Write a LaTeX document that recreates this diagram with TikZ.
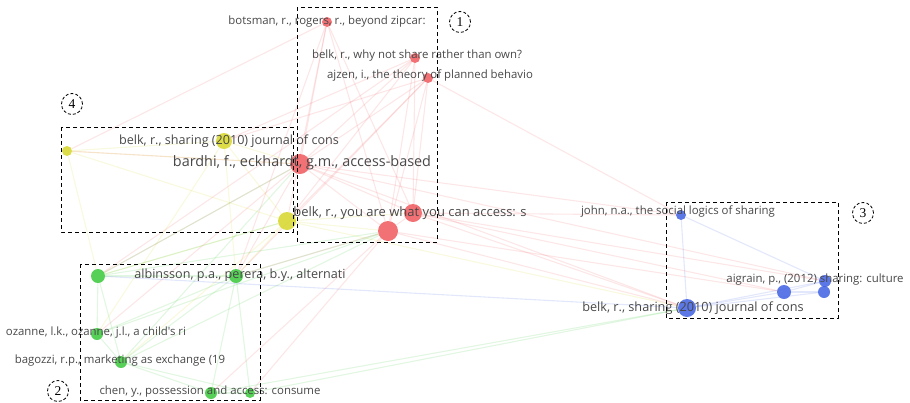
\documentclass[tikz,border=0pt]{standalone}
\usepackage{fontspec}
\setmainfont{Liberation Serif}
\newfontfamily\labfont{Open Sans}
\usepackage{tikz}
\usetikzlibrary{backgrounds}

\definecolor{vred}{RGB}{238,88,92}
\definecolor{vyellow}{RGB}{214,214,40}
\definecolor{vgreen}{RGB}{58,200,58}
\definecolor{vblue}{RGB}{64,96,226}
\definecolor{labgray}{RGB}{72,72,72}

\begin{document}
\begin{tikzpicture}[x=1pt,y=-1pt,
  item/.style={circle,inner sep=0pt,minimum size=2*#1pt,opacity=0.85},
  lab/.style={font=\labfont\fontsize{#1}{14}\selectfont,text=labgray,inner sep=0pt},
  lab/.default=11.4,
  link/.style={line width=1.1pt,draw opacity=0.15},
  group/.style={draw,dashed,line width=0.9pt,dash pattern=on 4pt off 3pt},
  tag/.style={circle,draw,dashed,line width=0.8pt,dash pattern=on 3pt off 2pt,inner sep=1pt,minimum size=21pt,font=\fontsize{13.5}{14}\selectfont}]
\useasboundingbox (0,0) rectangle (910,402);

% cluster nodes
\node [item=5,fill=vred] (bots) at (327,22) {};
\node [item=5,fill=vred] (whyn) at (415,58) {};
\node [item=5,fill=vred] (ajz) at (428,78) {};
\node [item=10,fill=vred] (bard) at (300,164) {};
\node [item=9,fill=vred] (bya) at (413,213) {};
\node [item=10,fill=vred] (byb) at (388,231) {};
\node [item=5,fill=vyellow] (ya) at (67,151) {};
\node [item=8,fill=vyellow] (bsy) at (224,141) {};
\node [item=9,fill=vyellow] (yb) at (287,221) {};
\node [item=7,fill=vgreen] (ga) at (98,276) {};
\node [item=7,fill=vgreen] (alb) at (236,276) {};
\node [item=6,fill=vgreen] (oz) at (97,334) {};
\node [item=6,fill=vgreen] (bag) at (121,362) {};
\node [item=6,fill=vgreen] (chen) at (211,393) {};
\node [item=5,fill=vgreen] (gb) at (250,393) {};
\node [item=5,fill=vblue] (john) at (681,215) {};
\node [item=9,fill=vblue] (bsb) at (687,308) {};
\node [item=7,fill=vblue] (bc) at (784,292) {};
\node [item=6,fill=vblue] (aig) at (825,281) {};
\node [item=6,fill=vblue] (ad) at (824,292) {};

% links
\begin{scope}[on background layer]
\foreach \a/\b in {bots/bard,bots/bya,bots/byb,bots/yb,bots/ya,bots/alb,
  whyn/bard,whyn/bya,whyn/byb,whyn/yb,whyn/bsy,whyn/ga,
  ajz/bard,ajz/bya,ajz/byb,ajz/john,ajz/bsy,ajz/alb,ajz/yb,
  bard/bya,bard/byb,bard/bsb,bard/john,bard/aig,bard/ya,bard/alb,bard/ga,bard/oz,
  bya/byb,bya/bsb,bya/bc,bya/john,bya/aig,
  byb/bsb,byb/bc,byb/alb,byb/gb,byb/chen}
  \draw [link,vred] (\a) -- (\b);
\foreach \a/\b in {ya/bsy,ya/bard,ya/ga,ya/yb,bsy/bard,bsy/yb,bsy/alb,bsy/oz,
  yb/bya,yb/byb,yb/ga,yb/bag,yb/bsb,yb/alb}
  \draw [link,vyellow] (\a) -- (\b);
\foreach \a/\b in {ga/alb,ga/oz,ga/bag,ga/bard,ga/yb,ga/byb,alb/chen,alb/gb,alb/bag,
  alb/byb,oz/bag,oz/alb,oz/byb,bag/chen,bag/gb,bag/bard,bag/byb,chen/gb,chen/bsb,gb/bsb}
  \draw [link,vgreen] (\a) -- (\b);
\foreach \a/\b in {john/bsb,john/aig,bsb/bc,bc/aig,bc/ad,aig/ad,bsb/aig,bsb/ad,bsb/ga}
  \draw [link,vblue] (\a) -- (\b);
\end{scope}

% labels
\node [lab] (bots-l) at (bots) {botsman, r., rogers, r., beyond zipcar:};
\node [lab] (whyn-l) at (417,56) {belk, r., why not share rather than own?};
\node [lab] (ajz-l) at (430,76) {ajzen, i., the theory of planned behavio};
\node [lab=12.6] (bsy-l) at (229,141) {belk, r., sharing (2010) journal of cons};
\node [lab=14.4] (bard-l) at (302,163) {bardhi, f., eckhardt, g.m., access-based};
\node [lab=13] (bya-l) at (410,213) {belk, r., you are what you can access: s};
\node [lab] (john-l) at (678,212) {john, n.a., the social logics of sharing};
\node [lab] (aig-l) at (815,280) {aigrain, p., (2012) sharing: culture};
\node [lab=12.7] (bsb-l) at (693,308) {belk, r., sharing (2010) journal of cons};
\node [lab=12.6] (alb-l) at (240,275) {albinsson, p.a., perera, b.y., alternati};
\node [lab] (oz-l) at (96,333) {ozanne, l.k., ozanne, j.l., a child's ri};
\node [lab] (bag-l) at (120,361) {bagozzi, r.p., marketing as exchange (19};
\node [lab] (chen-l) at (210,392) {chen, y., possession and access: consume};

% groups
\draw [group] (297,7) rectangle (437,242);
\draw [group] (61,127) rectangle (293,232);
\draw [group] (80,264) rectangle (260,400);
\draw [group] (666,202) rectangle (838,318);
\node [tag] (t1) at (460,22) {1};
\node [tag] (t4) at (72,104) {4};
\node [tag] (t3) at (863,213) {3};
\node [tag] (t2) at (58,391) {2};
\end{tikzpicture}
\end{document}
